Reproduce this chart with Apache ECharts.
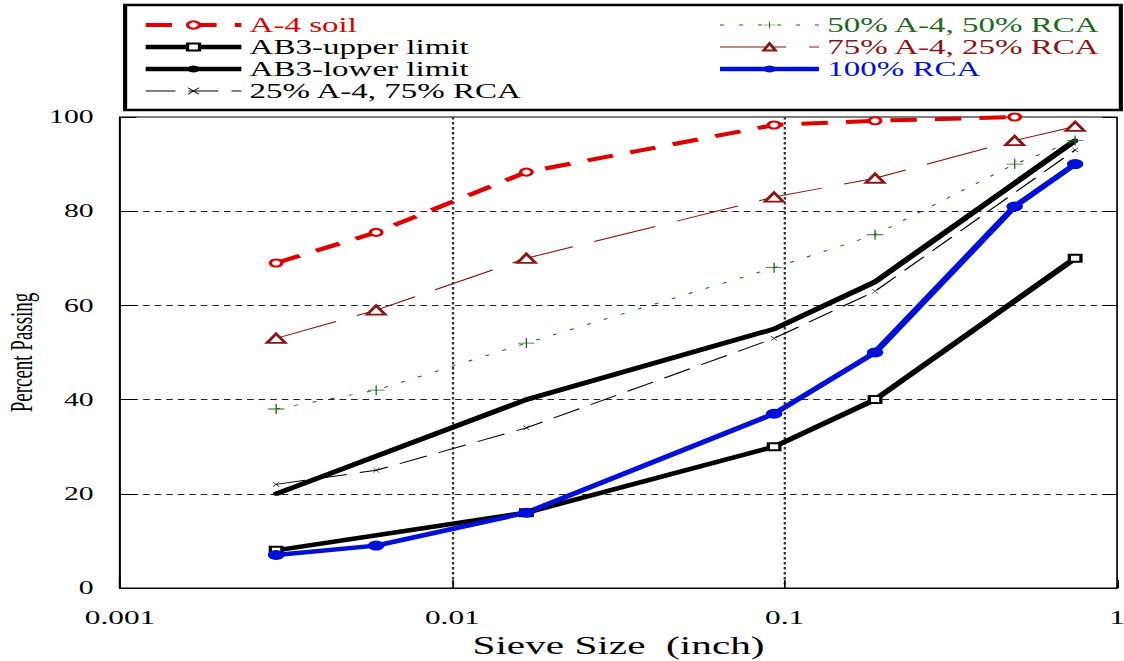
<!DOCTYPE html>
<html>
<head>
<meta charset="utf-8">
<title>Gradation curves</title>
<script src="https://cdn.jsdelivr.net/npm/echarts@6/dist/echarts.min.js"></script>
<style>
  html, body { margin: 0; padding: 0; background: #fff; overflow: hidden; }
  /* The figure is drawn narrow and widened horizontally, like the original plot export */
  #chart { position: absolute; left: 0; top: 0; width: 681px; height: 661px;
           transform: scaleX(1.6505); transform-origin: 0 0; }
</style>
</head>
<body>
<div id="chart"></div>
<script>
// Sieve openings (inch): #200, #100, #40, #8, #4, 1/2", 3/4"
const sieveSizes = [0.00295, 0.0059, 0.0167, 0.0929, 0.187, 0.492, 0.748];

// Percent passing per sieve (null = not measured / not specified)
const a4Soil     = [69, 75.5, 88.3, 98.3, 99.2, 100, null];
const ab3Upper   = [8, null, 16, 30, 40, null, 70];
const ab3Lower   = [20, null, 40, 55, 65, null, 95];
const mix25A4    = [22, 25, 34, 53, 63, null, 93];
const mix50A4    = [38, 42, 52, 68, 75, 90, 95];
const mix75A4    = [53, 59, 70, 83, 87, 95, 98];
const rca100     = [7, 9, 16, 37, 50, 81, 90];

const xTickLabels = ['0.001', '0.01', '0.1', '1'];
const yTickValues = [0, 20, 40, 60, 80, 100];

const FONT = 'Liberation Serif';
const RED = '#e00000', GREEN = '#1c6b1c', MAROON = '#8b1414', BLUE = '#0010d8';

function pairs(values) {
  const out = [];
  values.forEach((v, i) => { if (v !== null) out.push([sieveSizes[i], v]); });
  return out;
}

const plusPath = 'path://M4.6,0h0.8v10h-0.8z M0,4.6h10v0.8h-10z';
const crossPath = 'path://M0,0.7L0.7,0L10,9.3L9.3,10z M9.3,0L10,0.7L0.7,10L0,9.3z';

const series = [
  { name: 'A-4 soil', data: pairs(a4Soil), color: RED,
    lineStyle: { width: 4, type: [16, 11] },
    symbol: 'emptyCircle', symbolSize: 7, itemStyle: { borderWidth: 1.2 } },
  { name: 'AB3-upper limit', data: pairs(ab3Upper), color: '#000',
    lineStyle: { width: 4.5, type: 'solid' },
    symbol: 'emptyRect', symbolSize: 7, itemStyle: { borderWidth: 1.2 } },
  { name: 'AB3-lower limit', data: pairs(ab3Lower), color: '#000',
    lineStyle: { width: 4.5, type: 'solid' },
    symbol: 'circle', symbolSize: 4 },
  { name: '25% A-4, 75% RCA', data: pairs(mix25A4), color: '#000',
    lineStyle: { width: 1, type: [18, 8] },
    symbol: crossPath, symbolSize: [4, 5] },
  { name: '50% A-4, 50% RCA', data: pairs(mix50A4), color: GREEN,
    lineStyle: { width: 1, type: [2.5, 9] },
    symbol: plusPath, symbolSize: 10 },
  { name: '75% A-4, 25% RCA', data: pairs(mix75A4), color: MAROON,
    lineStyle: { width: 1, type: [40, 14] },
    symbol: 'emptyTriangle', symbolSize: [11, 9], itemStyle: { borderWidth: 1 } },
  { name: '100% RCA', data: pairs(rca100), color: BLUE,
    lineStyle: { width: 4.5, type: 'solid' },
    symbol: 'circle', symbolSize: 10 }
].map(s => Object.assign({
  type: 'line', showAllSymbol: true, clip: false, animation: false,
  emphasis: { disabled: true }
}, s));

// Legend entries take their key-line width from the series they name
function legendItem(name, color) {
  const s = series.find(x => x.name === name);
  return { name: name, textStyle: { color: color },
           lineStyle: { width: s.lineStyle.width, type: s.lineStyle.type } };
}

const legendText = { fontFamily: FONT, fontSize: 20, lineHeight: 22 };
const legendBase = {
  orient: 'vertical', top: 14, padding: 0, itemGap: 0, itemHeight: 9,
  selectedMode: false, textStyle: legendText
};

const chart = echarts.init(document.getElementById('chart'), null, { renderer: 'svg' });
chart.setOption({
  backgroundColor: '#fff',
  animation: false,
  textStyle: { fontFamily: FONT, color: '#000' },
  grid: { left: 72.7, right: 4.2, top: 117, bottom: 73, show: true,
          outerBoundsMode: 'none', containLabel: false,
          borderColor: '#000', borderWidth: 1, backgroundColor: 'transparent' },
  legend: [
    Object.assign({}, legendBase, { left: 86, itemWidth: 58, data: [
      legendItem('A-4 soil', RED),
      legendItem('AB3-upper limit', '#000'),
      legendItem('AB3-lower limit', '#000'),
      legendItem('25% A-4, 75% RCA', '#000')
    ] }),
    Object.assign({}, legendBase, { left: 434, itemWidth: 60, data: [
      legendItem('50% A-4, 50% RCA', GREEN),
      legendItem('75% A-4, 25% RCA', MAROON),
      legendItem('100% RCA', BLUE)
    ] })
  ],
  graphic: [{
    type: 'rect', left: 73.3, top: 2.5,
    shape: { width: 603.3, height: 105 },
    style: { fill: 'none', stroke: '#000', lineWidth: 2.5 }, z: 100
  }],
  xAxis: {
    type: 'log', logBase: 10, min: 0.001, max: 1,
    name: 'Sieve Size  (inch)', nameLocation: 'middle', nameGap: 45,
    nameTextStyle: { fontFamily: FONT, fontSize: 25, color: '#000' },
    axisLine: { lineStyle: { color: '#000', width: 1 } },
    axisTick: { inside: true, length: 8, lineStyle: { color: '#000' } },
    axisLabel: { fontFamily: FONT, fontSize: 19, color: '#000', margin: 20,
      formatter: v => xTickLabels[Math.round(Math.log10(v)) + 3] },
    splitLine: { show: true, showMinLine: false, showMaxLine: false,
      lineStyle: { color: '#333', width: 1.4, type: [2.5, 2.5] } },
    minorTick: { show: false }
  },
  yAxis: [{
    type: 'value', min: yTickValues[0], max: yTickValues[yTickValues.length - 1], interval: 20,
    name: 'Percent Passing', nameLocation: 'middle', nameGap: 50, nameMoveOverlap: false,
    nameTextStyle: { fontFamily: FONT, fontSize: 19, color: '#000' },
    axisLine: { show: true, lineStyle: { color: '#000', width: 1 } },
    axisTick: { inside: true, length: 10, lineStyle: { color: '#000' } },
    axisLabel: { fontFamily: FONT, fontSize: 18, color: '#000', margin: 16 },
    splitLine: { show: true, showMinLine: false, showMaxLine: false,
      lineStyle: { color: '#222', width: 1, type: [4, 3] } }
  }, {
    type: 'value', position: 'right', min: 0, max: 100, interval: 20,
    axisLine: { show: false },
    axisTick: { show: true, inside: true, length: 9, lineStyle: { color: '#000' } },
    axisLabel: { show: false },
    splitLine: { show: false }
  }],
  series: series
});
</script>
</body>
</html>
